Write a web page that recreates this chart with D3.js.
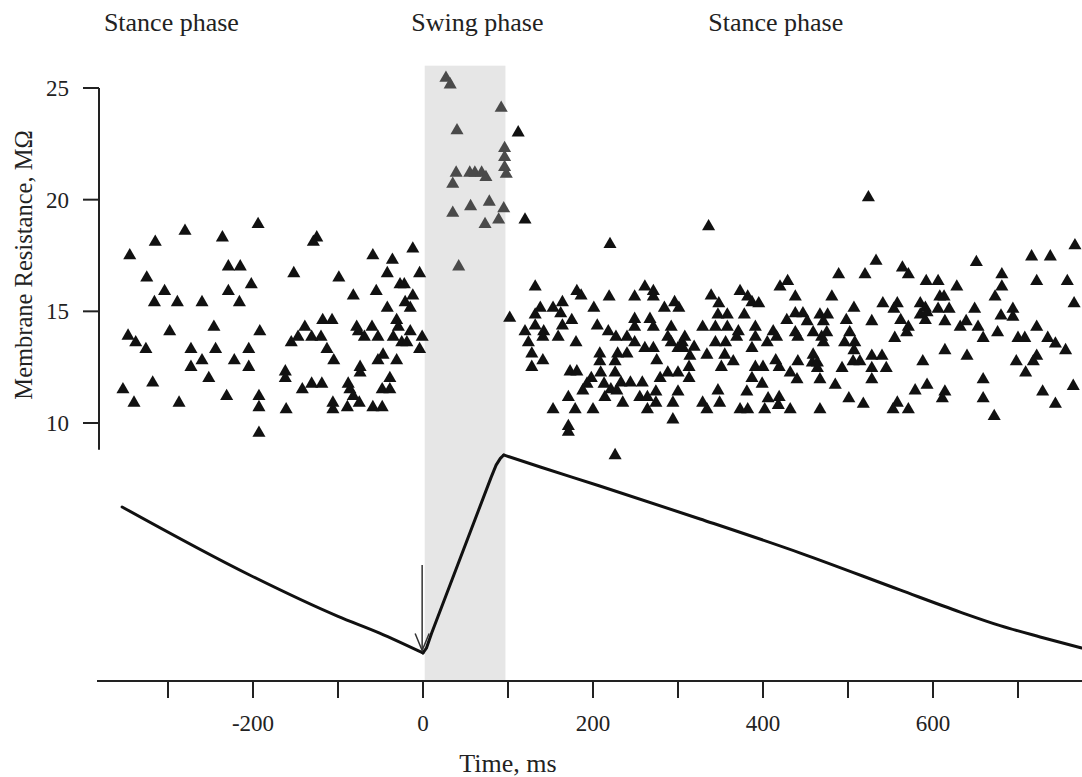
<!DOCTYPE html>
<html>
<head>
<meta charset="utf-8">
<script src="https://cdn.jsdelivr.net/npm/d3@7"></script>
<style>
  body { margin: 0; background: #fff; }
  text { font-family: "Liberation Serif", "Times New Roman", serif; fill: #222; }
</style>
</head>
<body>
<div id="chart"></div>
<script>
// [time ms, membrane resistance MOhm]
const stanceBefore = [
  [-280,18.6],[-315,18.1],[-345,17.5],[-236,18.3],[-194,18.9],[-229,17.0],[-215,17.0],[-325,16.5],
  [-304,15.9],[-229,15.9],[-202,16.2],[-316,15.4],[-289,15.4],[-260,15.4],[-216,15.4],[-298,14.1],
  [-246,14.3],[-192,14.1],[-347,13.9],[-338,13.6],[-326,13.3],[-273,13.3],[-244,13.3],[-205,13.3],
  [-260,12.8],[-222,12.8],[-273,12.5],[-205,12.5],[-252,12.0],[-353,11.5],[-318,11.8],[-340,10.9],
  [-287,10.9],[-231,11.2],[-193,11.2],[-193,10.7],[-193,9.55],
  [-125,18.3],[-129,18.1],[-59,17.5],[-36,17.3],[-12,17.8],[-152,16.7],[-99,16.5],[-42,16.7],
  [-4,16.7],[-27,16.2],[-22,16.2],[-55,15.9],[-82,15.7],[-12,15.7],[-21,15.4],[-15,15.15],
  [-42,15.15],[-118,14.6],[-107,14.6],[-139,14.3],[-78,14.3],[-60,14.3],[-31,14.6],[-29,14.3],
  [-15,14.1],[-147,13.85],[-131,13.85],[-120,13.85],[-76,14.1],[-69,13.85],[-53,13.85],[-35,13.85],
  [-1,13.85],[-155,13.6],[-25,13.6],[-19,13.6],[-113,13.3],[-4,13.3],[-47,13.05],[-105,12.8],
  [-53,12.8],[-31,12.8],[-74,12.5],[-74,12.25],[-162,12.3],[-162,12.0],[-39,12.0],[-142,11.5],
  [-131,11.75],[-119,11.75],[-88,11.75],[-86,11.5],[-48,11.5],[-39,11.5],[-82,11.2],[-75,10.9],
  [-161,10.6],[-106,10.9],[-106,10.6],[-89,10.7],[-59,10.7],[-48,10.7]
];

const swing = [
  [27,25.45],[32,25.15],[92,24.1],[40,23.1],[96,22.3],[96,21.9],[39,21.2],[55,21.2],[61,21.2],
  [69,21.2],[74,21.0],[96,21.45],[98,21.15],[35,20.7],[78,19.9],[56,19.7],[35,19.4],[95,19.6],
  [89,19.1],[73,18.9],[42,17.0]
];

const stanceAfter = [
  [112,23.0],[120,19.1],[102,14.7],[132,16.1],[138,15.15],[132,14.85],[120,14.1],[132,14.35],
  [142,14.1],[124,13.6],[128,13.1],[141,12.8],[128,12.5],
  [220,18.0],[181,15.9],[186,15.7],[219,15.65],[249,15.65],[261,16.1],[164,15.4],[153,15.15],
  [162,14.9],[201,15.15],[175,14.6],[141,13.85],[164,14.35],[159,13.85],[205,14.35],[218,14.1],
  [227,13.85],[240,13.85],[249,14.65],[249,14.3],[249,13.6],[261,13.35],[180,13.6],[208,13.1],
  [208,12.75],[229,13.1],[240,13.1],[226,12.75],[173,12.3],[181,12.3],[209,12.25],[226,12.25],
  [198,12.0],[193,11.75],[188,11.45],[213,11.75],[221,11.5],[228,11.45],[233,11.8],[244,11.8],
  [258,11.8],[171,11.15],[214,11.15],[255,11.15],[264,11.15],[153,10.6],[179,10.6],[200,10.6],
  [235,10.9],[264,10.6],[171,9.85],[171,9.6],[226,8.55],
  [336,18.8],[271,15.9],[271,15.65],[284,15.15],[296,15.4],[301,15.15],[339,15.7],[348,15.35],
  [347,14.85],[358,14.85],[373,15.9],[382,15.65],[387,15.4],[395,15.35],[378,14.85],[420,16.1],
  [429,16.35],[267,14.65],[271,14.3],[292,14.3],[329,14.3],[344,14.3],[358,14.3],[371,14.1],
  [369,13.85],[391,14.3],[391,13.85],[412,14.1],[416,13.85],[428,14.6],[288,13.85],[292,13.6],
  [308,13.85],[305,13.6],[300,13.35],[306,13.35],[319,13.4],[314,13.0],[271,13.35],[344,13.6],
  [356,13.6],[405,13.6],[387,13.35],[334,13.05],[355,13.05],[365,12.75],[275,12.8],[313,12.5],
  [351,12.5],[391,12.5],[400,12.5],[415,12.8],[419,12.5],[288,12.25],[300,12.25],[279,12.0],
  [313,12.0],[387,12.0],[274,11.4],[300,11.4],[347,11.45],[381,11.4],[399,11.75],[406,11.1],
  [419,11.15],[274,10.9],[294,10.9],[329,10.9],[334,10.6],[349,10.9],[373,10.6],[382,10.6],
  [402,10.6],[418,10.8],[294,10.15],
  [524,20.1],[533,17.25],[489,16.65],[520,16.65],[564,16.95],[571,16.65],[592,16.35],[438,15.65],
  [481,15.65],[507,15.15],[541,15.35],[558,15.35],[554,15.1],[585,15.35],[585,14.85],[591,15.15],
  [438,14.9],[447,14.9],[452,14.55],[467,14.85],[476,14.85],[471,14.55],[498,14.6],[528,14.55],
  [562,14.6],[571,14.3],[569,14.05],[591,14.6],[438,14.05],[441,13.85],[459,14.05],[469,13.85],
  [475,14.05],[471,13.6],[502,14.05],[496,13.6],[508,13.6],[507,13.25],[555,13.8],[459,13.05],
  [458,12.7],[464,12.7],[464,12.45],[441,12.75],[506,12.75],[514,12.75],[528,13.0],[540,13.0],
  [493,12.45],[528,12.45],[545,12.45],[588,12.75],[432,12.25],[440,11.95],[467,11.95],[528,11.95],
  [485,11.7],[593,11.7],[579,11.45],[501,11.1],[518,10.85],[432,10.6],[467,10.6],[558,10.9],
  [553,10.6],[571,10.6],
  [767,17.95],[716,17.45],[738,17.45],[651,17.2],[681,16.65],[606,16.35],[628,16.1],[681,16.1],
  [722,16.35],[758,16.35],[608,15.65],[613,15.65],[673,15.65],[766,15.35],[593,14.95],[606,15.1],
  [619,15.1],[649,15.1],[680,14.8],[694,15.1],[694,14.75],[614,14.55],[632,14.3],[639,14.55],
  [653,14.3],[659,13.8],[676,14.05],[700,13.8],[708,13.8],[722,14.3],[735,13.8],[744,13.55],
  [756,13.25],[614,13.25],[640,13.0],[698,12.75],[722,13.0],[718,12.75],[709,12.25],[659,11.95],
  [614,11.4],[611,11.1],[659,11.1],[729,11.4],[765,11.65],[744,10.85],[672,10.3]
];

// movement trace (arbitrary units): decay, rise during swing, decay
const traceTime  = [-354, -204, -100, -51, 0,   0, 4, 10, 80, 86, 91, 95,   95, 138, 208, 326, 444, 561, 632, 679, 726, 775];
const traceValue = [7.70, 4.69, 2.86, 2.12, 1.24,   1.24, 1.45, 2.1, 9.0, 9.55, 9.85, 10,   10, 9.47, 8.63, 7.17, 5.66, 4.03, 3.05, 2.45, 1.95, 1.46];
const traceSegments = [[0, 5], [5, 12], [12, 22]];

const xTicks = [-300, -200, -100, 0, 100, 200, 300, 400, 500, 600, 700];
const xTickLabels = [-200, 0, 200, 400, 600];
const yTicks = [10, 15, 20, 25];
const phaseNames = ["Stance phase", "Swing phase", "Stance phase"];
const swingWindow = [2, 97];

const width = 1082, height = 777;
const svg = d3.select('#chart').append('svg')
  .attr('width', width)
  .attr('height', height);

const x = d3.scaleLinear().domain([-300, 700]).range([168, 1018]);
const y = d3.scaleLinear().domain([10, 25]).range([423, 88]);
const yTrace = d3.scaleLinear().domain([0, 10]).range([681, 455]);
const axisY = 681;

// swing shading
svg.append('rect')
  .attr('x', x(swingWindow[0]))
  .attr('y', y(26))
  .attr('width', x(swingWindow[1]) - x(swingWindow[0]))
  .attr('height', axisY - y(26))
  .attr('fill', '#e6e6e6');

// phase labels
const phaseAt = [-296, 64, 415];
svg.selectAll('text.phase')
  .data(phaseNames)
  .enter().append('text')
  .attr('class', 'phase')
  .attr('x', (d, i) => x(phaseAt[i]))
  .attr('y', 31)
  .attr('text-anchor', 'middle')
  .attr('font-size', '26px')
  .text(d => d);

// y axis
const yAxis = svg.append('g');
yAxis.append('line')
  .attr('x1', 99).attr('x2', 99)
  .attr('y1', y(25)).attr('y2', y(8.8))
  .attr('stroke', '#222').attr('stroke-width', 2);
yAxis.selectAll('line.tick')
  .data(yTicks)
  .enter().append('line')
  .attr('class', 'tick')
  .attr('x1', 83).attr('x2', 99)
  .attr('y1', d => y(d)).attr('y2', d => y(d))
  .attr('stroke', '#222').attr('stroke-width', 2);
yAxis.selectAll('text')
  .data(yTicks)
  .enter().append('text')
  .attr('x', 69)
  .attr('y', d => y(d) + 8)
  .attr('text-anchor', 'end')
  .attr('font-size', '23px')
  .text(d => d);
svg.append('text')
  .attr('transform', `translate(32,${(133 + 397) / 2}) rotate(-90)`)
  .attr('text-anchor', 'middle')
  .attr('font-size', '24.5px')
  .text('Membrane Resistance, MΩ');

// x axis
const xAxis = svg.append('g');
xAxis.append('line')
  .attr('x1', 97).attr('x2', width)
  .attr('y1', axisY).attr('y2', axisY)
  .attr('stroke', '#222').attr('stroke-width', 2);
xAxis.selectAll('line.tick')
  .data(xTicks)
  .enter().append('line')
  .attr('class', 'tick')
  .attr('x1', d => x(d)).attr('x2', d => x(d))
  .attr('y1', axisY).attr('y2', axisY + 17)
  .attr('stroke', '#222').attr('stroke-width', 2);
xAxis.selectAll('text')
  .data(xTickLabels)
  .enter().append('text')
  .attr('x', d => x(d))
  .attr('y', 731)
  .attr('text-anchor', 'middle')
  .attr('font-size', '23px')
  .text(d => d);
svg.append('text')
  .attr('x', 508)
  .attr('y', 772)
  .attr('text-anchor', 'middle')
  .attr('font-size', '26px')
  .text('Time, ms');

// scatter
const tri = d3.symbol().type(d3.symbolTriangle).size(74);
function drawPoints(data, color) {
  svg.append('g').selectAll('path')
    .data(data)
    .enter().append('path')
    .attr('d', tri)
    .attr('transform', d => `translate(${x(d[0])},${y(d[1])})`)
    .attr('fill', color);
}
drawPoints(stanceBefore, '#111');
drawPoints(stanceAfter, '#111');
drawPoints(swing, '#4a4a4a');

// movement trace: the rise is nearly straight, the decays are smooth
const segmentCurves = [d3.curveMonotoneX, d3.curveLinear, d3.curveMonotoneX];
const tracePts = d3.zip(traceTime, traceValue);
svg.append('g').selectAll('path')
  .data(traceSegments.map(([a, b]) => tracePts.slice(a, b)))
  .enter().append('path')
  .attr('d', (d, i) => d3.line()
    .x(p => x(p[0]))
    .y(p => yTrace(p[1]))
    .curve(segmentCurves[i])(d))
  .attr('fill', 'none')
  .attr('stroke', '#111')
  .attr('stroke-width', 3)
  .attr('stroke-linecap', 'round')
  .attr('stroke-linejoin', 'round');

// arrow at swing onset
const arrowX = x(-1);
const arrowTop = yTrace(5.13), arrowTip = yTrace(1.35);
svg.append('line')
  .attr('x1', arrowX).attr('x2', arrowX)
  .attr('y1', arrowTop).attr('y2', arrowTip)
  .attr('stroke', '#333').attr('stroke-width', 1.5);
svg.append('path')
  .attr('d', `M${arrowX - 7},${arrowTip - 17} L${arrowX},${arrowTip} L${arrowX + 7},${arrowTip - 17}`)
  .attr('fill', 'none')
  .attr('stroke', '#333').attr('stroke-width', 1.5);
</script>
</body>
</html>
